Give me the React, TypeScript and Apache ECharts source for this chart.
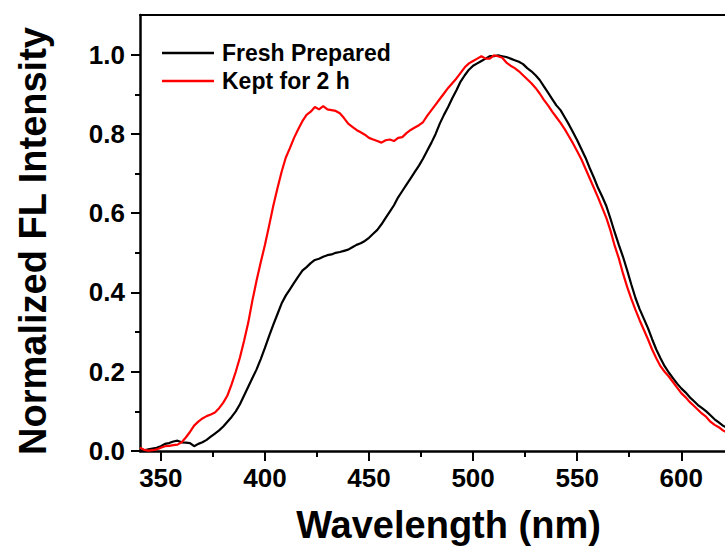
import React, { useEffect, useRef } from "react";
import * as echarts from "echarts";

const wavelengths = [
  340, 342, 344, 346, 348, 350, 352, 354, 356, 358, 360, 362, 364, 366, 368, 370, 372, 374, 376, 378,
  380, 382, 384, 386, 388, 390, 392, 394, 396, 398, 400, 402, 404, 406, 408, 410, 412, 414, 416, 418,
  420, 422, 424, 426, 428, 430, 432, 434, 436, 438, 440, 442, 444, 446, 448, 450, 452, 454, 456, 458,
  460, 462, 464, 466, 468, 470, 472, 474, 476, 478, 480, 482, 484, 486, 488, 490, 492, 494, 496, 498,
  500, 502, 504, 506, 508, 510, 512, 514, 516, 518, 520, 522, 524, 526, 528, 530, 532, 534, 536, 538,
  540, 542, 544, 546, 548, 550, 552, 554, 556, 558, 560, 562, 564, 566, 568, 570, 572, 574, 576, 578,
  580, 582, 584, 586, 588, 590, 592, 594, 596, 598, 600, 602, 604, 606, 608, 610, 612, 614, 616, 618,
  620, 622, 624, 626, 628, 630,
];

const freshPrepared = [
  0.0, 0.002, 0.004, 0.006, 0.008, 0.012, 0.018, 0.02, 0.024, 0.026, 0.022, 0.021, 0.02, 0.012, 0.018, 0.022, 0.028, 0.036, 0.044, 0.052,
  0.062, 0.074, 0.086, 0.1, 0.118, 0.14, 0.162, 0.184, 0.206, 0.232, 0.26, 0.29, 0.318, 0.345, 0.372, 0.392, 0.408, 0.424, 0.44, 0.455,
  0.464, 0.474, 0.482, 0.485, 0.49, 0.494, 0.496, 0.5, 0.502, 0.505, 0.508, 0.514, 0.52, 0.524, 0.53, 0.538, 0.548, 0.558, 0.572, 0.588,
  0.604, 0.62, 0.64, 0.656, 0.672, 0.688, 0.704, 0.72, 0.738, 0.758, 0.778, 0.8, 0.826, 0.848, 0.868, 0.89, 0.91, 0.932, 0.948, 0.962,
  0.972, 0.978, 0.984, 0.99, 0.996, 0.996, 0.998, 0.996, 0.994, 0.99, 0.986, 0.982, 0.976, 0.966, 0.958, 0.948, 0.936, 0.92, 0.904, 0.888,
  0.872, 0.86, 0.842, 0.824, 0.804, 0.784, 0.762, 0.74, 0.714, 0.69, 0.664, 0.642, 0.618, 0.586, 0.552, 0.52, 0.49, 0.456, 0.42, 0.386,
  0.358, 0.334, 0.31, 0.282, 0.256, 0.234, 0.214, 0.198, 0.184, 0.17, 0.158, 0.148, 0.136, 0.126, 0.116, 0.108, 0.1, 0.09, 0.08, 0.072,
  0.064, 0.058, 0.052, 0.046, 0.04, 0.036,
];

const keptFor2h = [
  0.008, 0.003, 0.001, 0.002, 0.004, 0.008, 0.012, 0.013, 0.015, 0.016, 0.022, 0.034, 0.048, 0.064, 0.074, 0.082, 0.088, 0.092, 0.097, 0.108,
  0.122, 0.14, 0.168, 0.2, 0.236, 0.278, 0.324, 0.38, 0.43, 0.476, 0.52, 0.568, 0.618, 0.662, 0.704, 0.74, 0.764, 0.79, 0.812, 0.832,
  0.848, 0.856, 0.868, 0.862, 0.87, 0.862, 0.86, 0.858, 0.852, 0.84, 0.826, 0.818, 0.81, 0.804, 0.798, 0.79, 0.786, 0.782, 0.778, 0.784,
  0.786, 0.782, 0.79, 0.792, 0.802, 0.81, 0.816, 0.822, 0.83, 0.846, 0.86, 0.874, 0.888, 0.902, 0.916, 0.928, 0.94, 0.954, 0.968, 0.978,
  0.984, 0.99, 0.996, 0.99, 0.99, 0.998, 0.996, 0.992, 0.98, 0.972, 0.966, 0.958, 0.948, 0.938, 0.928, 0.916, 0.902, 0.886, 0.872, 0.856,
  0.842, 0.828, 0.812, 0.794, 0.776, 0.756, 0.736, 0.712, 0.688, 0.664, 0.64, 0.614, 0.588, 0.556, 0.518, 0.486, 0.448, 0.414, 0.384, 0.356,
  0.33, 0.306, 0.282, 0.256, 0.234, 0.214, 0.2, 0.188, 0.174, 0.16, 0.146, 0.136, 0.124, 0.114, 0.104, 0.094, 0.086, 0.074, 0.066, 0.06,
  0.052, 0.046, 0.04, 0.036, 0.032, 0.028,
];

const xMajorTicks = [350, 400, 450, 500, 550, 600];
const xMinorTicks = [375, 425, 475, 525, 575];
const yMajorTicks = [0, 0.2, 0.4, 0.6, 0.8, 1.0];
const yMinorTicks = [0.1, 0.3, 0.5, 0.7, 0.9];

const seriesNames = ["Fresh Prepared", "Kept for 2 h"];

const FONT = "'Liberation Sans', Arial, Helvetica, sans-serif";

export default function App() {
  const ref = useRef<HTMLDivElement>(null);

  useEffect(() => {
    if (!ref.current) return;
    const chart = echarts.init(ref.current, undefined, { renderer: "svg" });
    const xMin = 340;
    const xMax = 621;
    const common = { min: xMin, max: xMax, splitLine: { show: false } };
    chart.setOption({
      animation: false,
      backgroundColor: "#ffffff",
      grid: { left: 140, right: 0, top: 15, bottom: 102, containLabel: false },
      legend: {
        data: seriesNames.map((n) => ({ name: n, icon: "rect" })),
        orient: "vertical",
        left: 157,
        top: 36,
        itemWidth: 52,
        itemHeight: 2.5,
        itemGap: 4,
        textStyle: {
          fontFamily: FONT,
          fontWeight: "bold",
          fontSize: 23,
          color: "#000",
          padding: [0, 0, 0, 3],
          lineHeight: 24,
        },
      },
      xAxis: [
        {
          type: "value",
          position: "bottom",
          ...common,
          name: "Wavelength (nm)",
          nameLocation: "middle",
          nameGap: 55,
          nameTextStyle: {
            fontFamily: FONT,
            fontWeight: "bold",
            fontSize: 38,
            color: "#000",
            padding: [0, 0, 0, 32],
          },
          axisLine: { show: true, lineStyle: { color: "#000", width: 2.5 } },
          axisTick: {
            show: true,
            inside: false,
            length: 10,
            customValues: xMajorTicks,
            lineStyle: { color: "#000", width: 2 },
          },
          axisLabel: {
            customValues: xMajorTicks,
            margin: 14,
            fontFamily: FONT,
            fontWeight: "bold",
            fontSize: 26,
            color: "#000",
          },
        },
        {
          type: "value",
          position: "bottom",
          ...common,
          axisLine: { show: false },
          axisTick: {
            show: true,
            inside: false,
            length: 6,
            customValues: xMinorTicks,
            lineStyle: { color: "#000", width: 2 },
          },
          axisLabel: { show: false },
        },
        {
          type: "value",
          position: "top",
          ...common,
          axisLine: { show: true, lineStyle: { color: "#000", width: 2 } },
          axisTick: { show: false },
          axisLabel: { show: false },
        },
      ],
      yAxis: [
        {
          type: "value",
          position: "left",
          min: 0,
          max: 1.1,
          splitLine: { show: false },
          name: "Normalized FL Intensity",
          nameLocation: "middle",
          nameGap: 88,
          nameTextStyle: {
            fontFamily: FONT,
            fontWeight: "bold",
            fontSize: 38,
            color: "#000",
            padding: [0, 16, 0, 0],
          },
          axisLine: { show: true, lineStyle: { color: "#000", width: 2.5 } },
          axisTick: {
            show: true,
            inside: false,
            length: 9,
            customValues: yMajorTicks,
            lineStyle: { color: "#000", width: 2 },
          },
          axisLabel: {
            customValues: yMajorTicks,
            margin: 15,
            formatter: (v: number) => v.toFixed(1),
            fontFamily: FONT,
            fontWeight: "bold",
            fontSize: 26,
            color: "#000",
          },
        },
        {
          type: "value",
          position: "left",
          min: 0,
          max: 1.1,
          splitLine: { show: false },
          axisLine: { show: false },
          axisTick: {
            show: true,
            inside: false,
            length: 5,
            customValues: yMinorTicks,
            lineStyle: { color: "#000", width: 2 },
          },
          axisLabel: { show: false },
        },
      ],
      series: [
        {
          name: seriesNames[0],
          type: "line",
          xAxisIndex: 0,
          yAxisIndex: 0,
          symbol: "none",
          showSymbol: false,
          clip: true,
          color: "#000000",
          lineStyle: { color: "#000000", width: 2.2 },
          data: wavelengths.map((w, i) => [w, freshPrepared[i]]),
        },
        {
          name: seriesNames[1],
          type: "line",
          xAxisIndex: 0,
          yAxisIndex: 0,
          symbol: "none",
          showSymbol: false,
          clip: true,
          color: "#ff0000",
          lineStyle: { color: "#ff0000", width: 2.2 },
          data: wavelengths.map((w, i) => [w, keptFor2h[i]]),
        },
      ],
    });
    return () => chart.dispose();
  }, []);

  return (
    <div
      ref={ref}
      style={{ position: "fixed", left: 0, top: 0, width: 725, height: 553, background: "#fff" }}
    />
  );
}
